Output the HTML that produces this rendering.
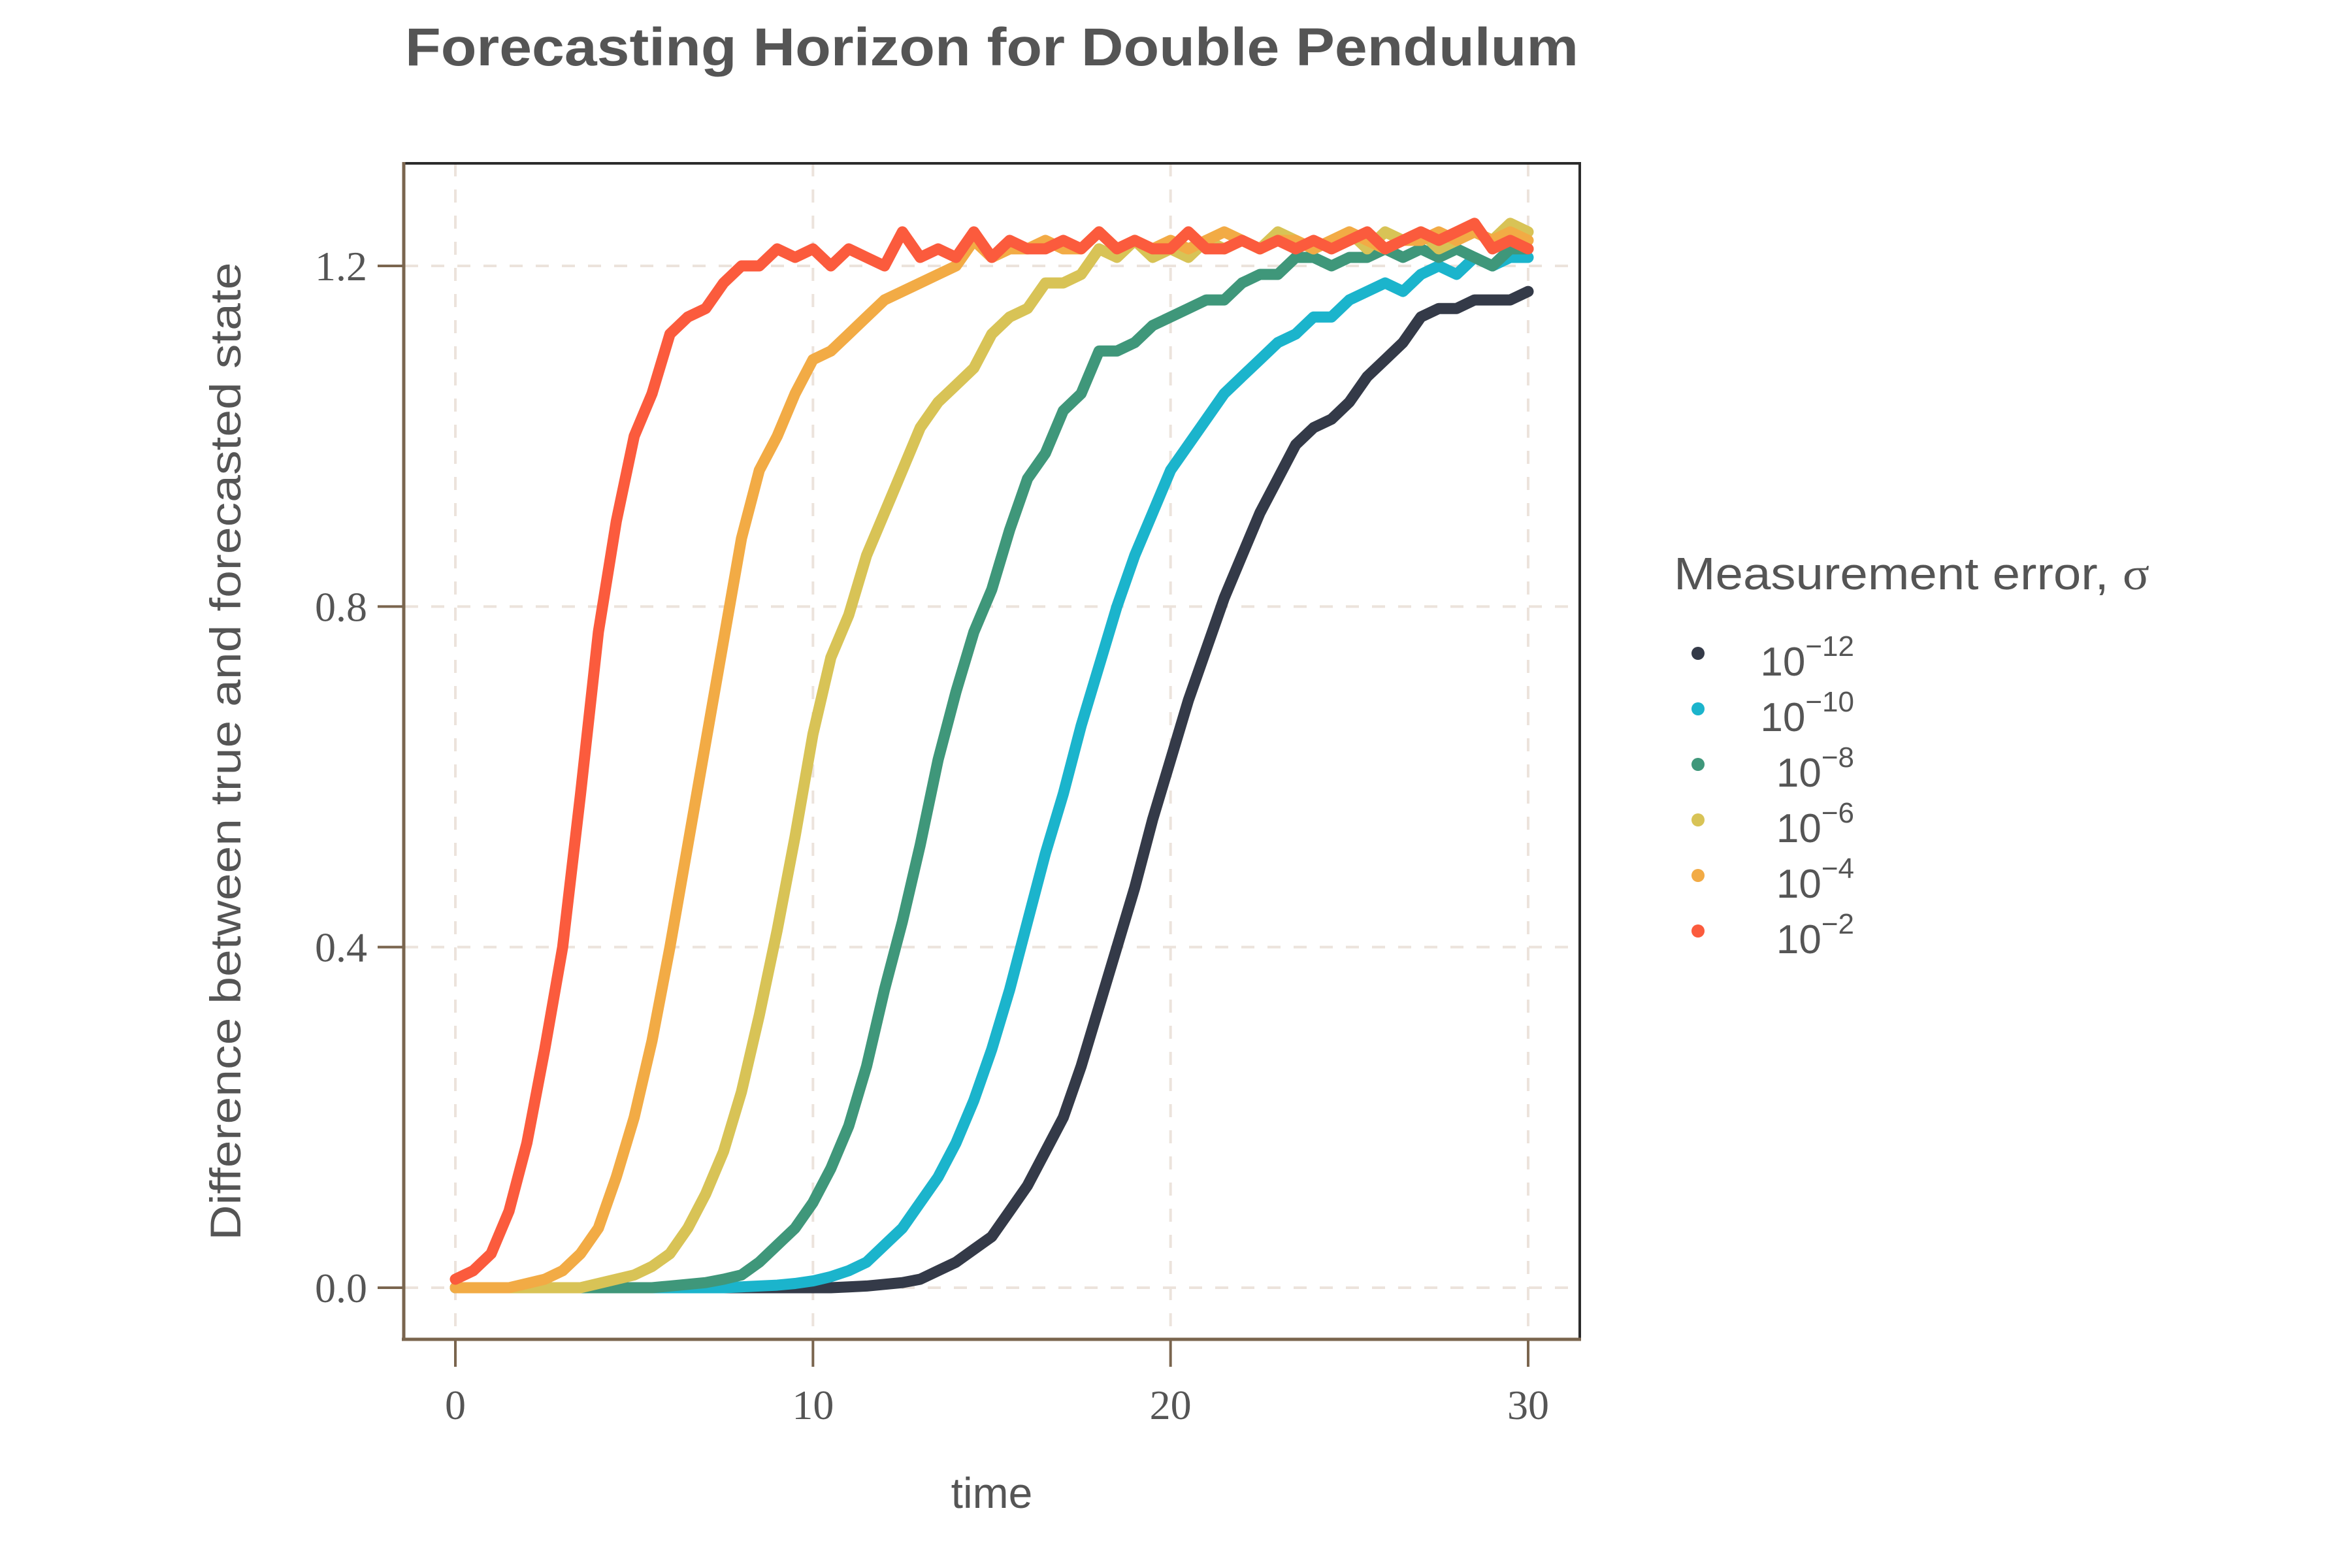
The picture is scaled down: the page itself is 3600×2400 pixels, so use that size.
<!DOCTYPE html>
<html><head><meta charset="utf-8">
<style>
html,body{margin:0;padding:0;background:#fff;}
svg{display:block;}
</style></head>
<body>
<svg id="chart" width="3600" height="2400" viewBox="0 0 3600 2400" xmlns="http://www.w3.org/2000/svg">
  <text x="1518" y="100" text-anchor="middle" font-family="Liberation Sans, sans-serif" font-weight="bold" font-size="82" fill="#555555" textLength="1796" lengthAdjust="spacingAndGlyphs">Forecasting Horizon for Double Pendulum</text>
  <rect x="617" y="248" width="1801" height="1801" fill="#ffffff"/>
  <g id="grid"></g>
  <g id="series"></g>
  <line x1="617" y1="250" x2="2420" y2="250" stroke="#2b2b2b" stroke-width="4"/>
  <line x1="2418" y1="248" x2="2418" y2="2051" stroke="#2b2b2b" stroke-width="4"/>
  <line x1="615" y1="2050" x2="2420" y2="2050" stroke="#7a654e" stroke-width="5"/>
  <line x1="618" y1="248" x2="618" y2="2052" stroke="#7a654e" stroke-width="5"/>
  <g id="ticks"></g>
  <text x="1518" y="2308" text-anchor="middle" font-family="Liberation Sans, sans-serif" font-size="66" fill="#555555">time</text>
  <text transform="translate(368,1150) rotate(-90)" text-anchor="middle" font-family="Liberation Sans, sans-serif" font-size="66" fill="#555555" textLength="1497" lengthAdjust="spacingAndGlyphs">Difference between true and forecasted state</text>
  <g id="legend">
    <text x="2562" y="902" font-family="Liberation Sans, sans-serif" font-size="70" fill="#555555" textLength="728" lengthAdjust="spacingAndGlyphs">Measurement error, <tspan font-family="Liberation Serif, serif">σ</tspan></text>
  </g>
</svg>
<script>
const timeStep = 0.5;
const xTicks = [0, 10, 20, 30];
const yTicks = [0, 0.4, 0.8, 1.2];
const yTickLabels = ["0.0", "0.4", "0.8", "1.2"];
const seriesNames = ["-12", "-10", "-8", "-6", "-4", "-2"];
const seriesColors = ["#343a48", "#1bb4cc", "#3f977a", "#d8c356", "#f2ab45", "#fb5b3d"];
const black12 = [0,0,0,0,0,0,0,0,0,0,0,0,0,0,0,0,0,0,0,0,0,0,0.001,0.002,0.004,0.006,0.01,0.02,0.03,0.045,0.06,0.09,0.12,0.16,0.20,0.26,0.33,0.40,0.47,0.55,0.62,0.69,0.75,0.81,0.86,0.91,0.95,0.99,1.01,1.02,1.04,1.07,1.09,1.11,1.14,1.15,1.15,1.16,1.16,1.16,1.17];
const cyan10 = [0,0,0,0,0,0,0,0,0,0,0,0,0,0,0,0,0.001,0.002,0.003,0.005,0.008,0.013,0.02,0.03,0.05,0.07,0.10,0.13,0.17,0.22,0.28,0.35,0.43,0.51,0.58,0.66,0.73,0.80,0.86,0.91,0.96,0.99,1.02,1.05,1.07,1.09,1.11,1.12,1.14,1.14,1.16,1.17,1.18,1.17,1.19,1.20,1.19,1.21,1.20,1.21,1.21];
const green8 = [0,0,0,0,0,0,0,0,0,0,0,0,0.002,0.004,0.006,0.01,0.015,0.03,0.05,0.07,0.10,0.14,0.19,0.26,0.35,0.43,0.52,0.62,0.70,0.77,0.82,0.89,0.95,0.98,1.03,1.05,1.10,1.10,1.11,1.13,1.14,1.15,1.16,1.16,1.18,1.19,1.19,1.21,1.21,1.20,1.21,1.21,1.22,1.21,1.22,1.21,1.22,1.21,1.20,1.22,1.22];
const yellow6 = [0,0,0,0,0,0,0,0,0.005,0.01,0.015,0.025,0.04,0.07,0.11,0.16,0.23,0.32,0.42,0.53,0.65,0.74,0.79,0.86,0.91,0.96,1.01,1.04,1.06,1.08,1.12,1.14,1.15,1.18,1.18,1.19,1.22,1.21,1.23,1.21,1.22,1.21,1.23,1.22,1.23,1.22,1.24,1.23,1.22,1.23,1.24,1.22,1.24,1.23,1.24,1.22,1.23,1.24,1.23,1.25,1.24];
const orange4 = [0,0,0,0,0.005,0.01,0.02,0.04,0.07,0.13,0.20,0.29,0.40,0.52,0.64,0.76,0.88,0.96,1.00,1.05,1.09,1.10,1.12,1.14,1.16,1.17,1.18,1.19,1.20,1.23,1.21,1.22,1.22,1.23,1.22,1.22,1.24,1.22,1.23,1.22,1.23,1.22,1.23,1.24,1.23,1.22,1.23,1.23,1.22,1.23,1.24,1.23,1.22,1.23,1.23,1.24,1.23,1.24,1.23,1.24,1.23];
const red2 = [0.01,0.02,0.04,0.09,0.17,0.28,0.40,0.58,0.77,0.90,1.00,1.05,1.12,1.14,1.15,1.18,1.20,1.20,1.22,1.21,1.22,1.20,1.22,1.21,1.20,1.24,1.21,1.22,1.21,1.24,1.21,1.23,1.22,1.22,1.23,1.22,1.24,1.22,1.23,1.22,1.22,1.24,1.22,1.22,1.23,1.22,1.23,1.22,1.23,1.22,1.23,1.24,1.22,1.23,1.24,1.23,1.24,1.25,1.22,1.23,1.22];
const seriesValues = [black12, cyan10, green8, yellow6, orange4, red2];

const NS = "http://www.w3.org/2000/svg";
const X0 = 697, X1 = 2339, Y0 = 1971, Y1 = 407;
function xScale(t){ return X0 + (X1 - X0) * t / 30; }
function yScale(v){ return Y0 + (Y1 - Y0) * v / 1.2; }
function mk(tag, attrs, parent){ const e = document.createElementNS(NS, tag); for (const k in attrs) e.setAttribute(k, attrs[k]); parent.appendChild(e); return e; }

const grid = document.getElementById('grid');
const ticks = document.getElementById('ticks');
xTicks.forEach(function(t){
  const gx = mk('line', {x1:xScale(t), x2:xScale(t), y1:250, y2:2048, stroke:'#ece3dc', 'stroke-width':4, 'stroke-dasharray':'20 20'}, grid);
  
  
  const tk = mk('line', {x1:xScale(t), x2:xScale(t), y1:2050, y2:2092, stroke:'#7a654e', 'stroke-width':4}, ticks);
  
  
  const lb = mk('text', {x:xScale(t), y:2172, 'text-anchor':'middle', 'font-family':'Liberation Serif, serif', 'font-size':64, fill:'#555555'}, ticks);
  lb.textContent = String(t);
  
  
});
yTicks.forEach(function(v, i){
  const gy = mk('line', {x1:620, x2:2416, y1:yScale(v), y2:yScale(v), stroke:'#ece3dc', 'stroke-width':4, 'stroke-dasharray':'20 20'}, grid);
  
  
  const tk = mk('line', {x1:578, x2:618, y1:yScale(v), y2:yScale(v), stroke:'#7a654e', 'stroke-width':4}, ticks);
  
  
  const lb = mk('text', {x:562, y:yScale(v) + 22, 'text-anchor':'end', 'font-family':'Liberation Serif, serif', 'font-size':64, fill:'#555555'}, ticks);
  lb.textContent = yTickLabels[i];
  
  
});

const sg = document.getElementById('series');
seriesValues.forEach(function(vals, s){
  const pts = vals.map(function(v, i){ return xScale(i * timeStep).toFixed(1) + ',' + yScale(v).toFixed(1); }).join(' ');
  const pl = mk('polyline', {points:pts, fill:'none', stroke:seriesColors[s], 'stroke-width':17, 'stroke-linejoin':'round', 'stroke-linecap':'round'}, sg);
  
  
});

const lg = document.getElementById('legend');
seriesNames.forEach(function(n, i){
  const cy = 1000 + i * 85;
  const dot = mk('circle', {cx:2599, cy:cy, r:10, fill:seriesColors[i]}, lg);
  
  
  const t = mk('text', {x:2838, y:cy + 34, 'text-anchor':'end', 'font-family':'Liberation Sans, sans-serif', 'font-size':62, fill:'#555555'}, lg);
  
  
  t.appendChild(document.createTextNode('10'));
  const sup = document.createElementNS(NS, 'tspan');
  sup.setAttribute('dy', '-30');
  sup.setAttribute('font-size', '44');
  sup.textContent = n.replace('-', '\u2212');
  t.appendChild(sup);
});
</script>
</body></html>
